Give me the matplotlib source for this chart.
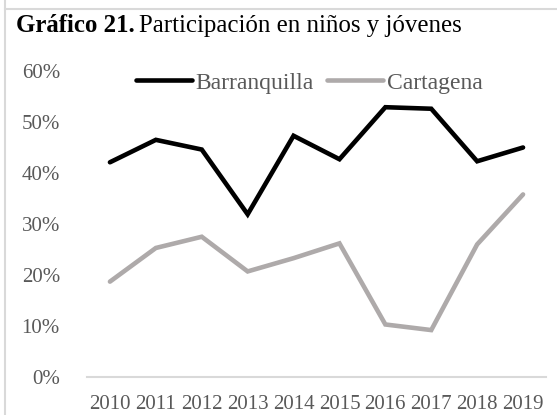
import matplotlib
matplotlib.use("Agg")
import matplotlib.pyplot as plt
from matplotlib.lines import Line2D

years = ["2010", "2011", "2012", "2013", "2014", "2015", "2016", "2017", "2018", "2019"]
barranquilla = [0.421, 0.465, 0.446, 0.319, 0.473, 0.427, 0.529, 0.526, 0.423, 0.450]
cartagena = [0.187, 0.253, 0.275, 0.207, 0.233, 0.262, 0.103, 0.092, 0.260, 0.358]
yticks = [0.0, 0.1, 0.2, 0.3, 0.4, 0.5, 0.6]
ytick_labels = ["0%", "10%", "20%", "30%", "40%", "50%", "60%"]
series_names = ["Barranquilla", "Cartagena"]

plt.rcParams['font.family'] = ['Liberation Serif', 'DejaVu Serif']

W, H = 557, 415
fig = plt.figure(figsize=(W / 100, H / 100), dpi=100)
fig.patch.set_facecolor("white")

ax = fig.add_axes([87 / W, 1 - 377 / H, (546 - 87) / W, (377 - 71) / H])
x = list(range(len(years)))
lb, = ax.plot(x, barranquilla, color="black", lw=3.3, solid_joinstyle="miter",
              solid_capstyle="round", label=series_names[0])
lc, = ax.plot(x, cartagena, color="#AEAAAA", lw=3.3, solid_joinstyle="miter",
              solid_capstyle="round", label=series_names[1])

ax.set_xlim(-0.5, len(years) - 0.5)
ax.set_ylim(0, 0.6)
ax.set_xticks(x)
ax.set_xticklabels(years)
ax.set_yticks(yticks)
ax.set_yticklabels(ytick_labels)
for s in ["top", "right", "left"]:
    ax.spines[s].set_visible(False)
ax.spines["bottom"].set_color("#D9D9D9")
ax.spines["bottom"].set_linewidth(1.5)
ax.tick_params(axis="both", length=0, labelsize=15, colors="#595959")
ax.tick_params(axis="y", pad=19.5)
ax.tick_params(axis="x", pad=13)

leg = ax.legend(handles=[lb, lc], loc="center", bbox_to_anchor=(0.484, 0.961),
                ncol=2, frameon=False, fontsize=17, handlelength=2.37,
                handletextpad=0.13, columnspacing=0.6, borderaxespad=0,
                borderpad=0)
for t in leg.get_texts():
    t.set_color("#595959")

# Title
t1 = fig.text(16 / W, 1 - 26 / H, "Gráfico 21.", fontsize=17.9, fontweight="bold",
              color="black", va="center", ha="left")
fig.canvas.draw()
r = fig.canvas.get_renderer()
bb = t1.get_window_extent(renderer=r)
fig.text(bb.x1 / W + 4 / W, 1 - 26 / H, "Participación en niños y jóvenes",
         fontsize=17.9, color="black", va="center", ha="left")

# Frame border lines
fig.add_artist(Line2D([4.5 / W, 4.5 / W], [0, 1], transform=fig.transFigure,
                      color="#D9D9D9", lw=1.5))
fig.add_artist(Line2D([4.5 / W, 1], [1 - 9 / H, 1 - 9 / H], transform=fig.transFigure,
                      color="#D9D9D9", lw=1.5))

fig.savefig("out.png", dpi=100, facecolor="white")
